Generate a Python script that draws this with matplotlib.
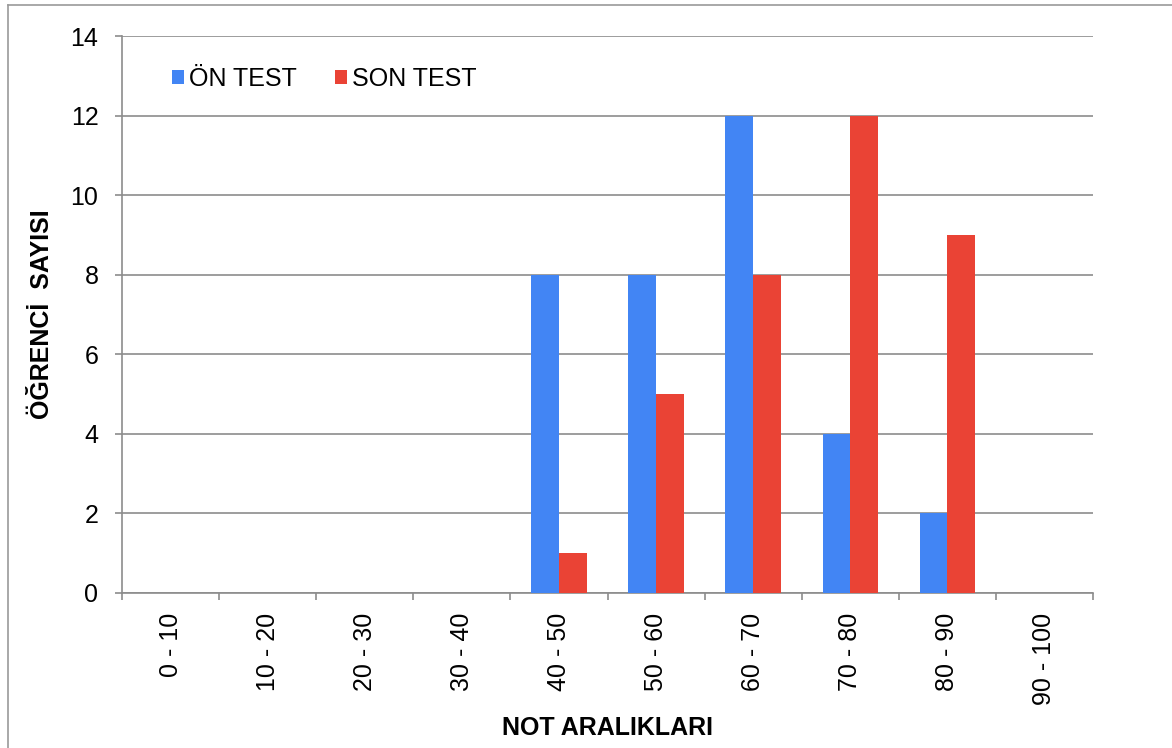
import numpy as np
import matplotlib.pyplot as plt
from matplotlib.lines import Line2D

plt.rcParams['font.family'] = ['Liberation Sans', 'DejaVu Sans']

categories = ['0 - 10', '10 - 20', '20 - 30', '30 - 40', '40 - 50',
              '50 - 60', '60 - 70', '70 - 80', '80 - 90', '90 - 100']
on_test = [0, 0, 0, 0, 8, 8, 12, 4, 2, 0]
son_test = [0, 0, 0, 0, 1, 5, 8, 12, 9, 0]

blue = '#4285f4'
red = '#ea4335'
grid_col = '#8c8c8c'

fig = plt.figure(figsize=(11.72, 7.48), dpi=100)
ax = fig.add_axes([122 / 1172, 1 - 593 / 748, (1093 - 122) / 1172, (593 - 36) / 748])

# chart frame (only left and top edges visible in the picture)
fig.add_artist(Line2D([8 / 1172, 8 / 1172], [0, 1 - 5 / 748], color='#9a9a9a', lw=1.2,
                      transform=fig.transFigure))
fig.add_artist(Line2D([8 / 1172, 1], [1 - 5 / 748, 1 - 5 / 748], color='#9a9a9a', lw=1.2,
                      transform=fig.transFigure))

x = np.arange(len(categories))
w = 1 / 3.5
ax.bar(x - w / 2, on_test, w, color=blue, label='ÖN TEST', zorder=3)
ax.bar(x + w / 2, son_test, w, color=red, label='SON TEST', zorder=3)

ax.set_xlim(-0.5, len(categories) - 0.5)
ax.set_ylim(0, 14)
ax.set_yticks(range(0, 15, 2))
ax.yaxis.grid(True, color=grid_col, lw=1.2, zorder=0)
ax.set_axisbelow(True)

ax.set_xticks(np.arange(-0.5, len(categories), 1))
ax.set_xticklabels([])
ax.set_xticks(x, minor=True)
ax.set_xticklabels(categories, minor=True, rotation=90, fontsize=18)
ax.tick_params(axis='x', which='minor', length=0, pad=14)
ax.tick_params(axis='x', which='major', length=5, color=grid_col, width=1.2)
ax.tick_params(axis='y', length=5, color=grid_col, width=1.2, labelsize=18, pad=12)

for s in ['top', 'right']:
    ax.spines[s].set_visible(False)
for s in ['left', 'bottom']:
    ax.spines[s].set_color(grid_col)
    ax.spines[s].set_linewidth(1.2)

ax.set_ylabel('ÖĞRENCİ  SAYISI', fontsize=18, fontweight='bold', labelpad=12)
ax.set_xlabel('NOT ARALIKLARI', fontsize=18, fontweight='bold', labelpad=8)

ax.legend(loc='upper left', bbox_to_anchor=(0.028, 0.985), ncol=2, frameon=False,
          fontsize=18, handlelength=0.5, handleheight=0.5, handletextpad=0.2,
          columnspacing=1.5)

fig.savefig('out.png', dpi=100)
